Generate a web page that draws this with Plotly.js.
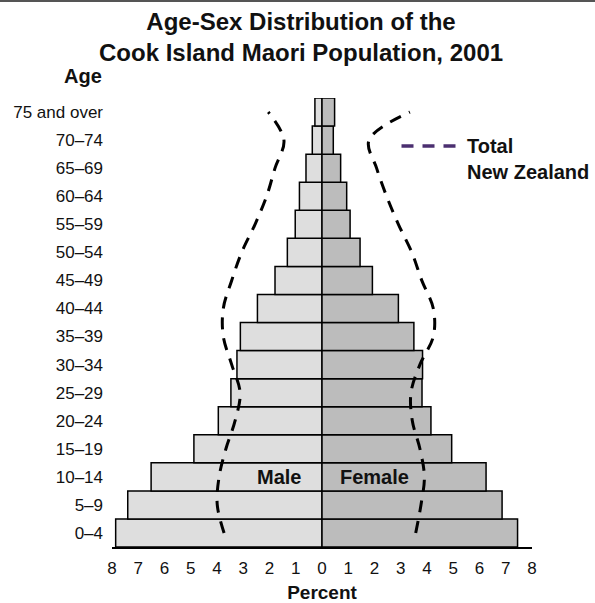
<!DOCTYPE html>
<html>
<head>
<meta charset="utf-8">
<script src="https://cdn.plot.ly/plotly-3.0.1.min.js"></script>
<style>
  html, body { margin: 0; padding: 0; background: #ffffff; }
  #chart { width: 595px; height: 603px; }
</style>
</head>
<body>
<div id="chart"></div>
<script>
// Age groups (bottom to top)
var ageGroups = ['0–4','5–9','10–14','15–19','20–24','25–29','30–34','35–39','40–44','45–49','50–54','55–59','60–64','65–69','70–74','75 and over'];

// Cook Island Maori population, 2001 (percent)
var maleCIM   = [7.86, 7.40, 6.51, 4.88, 3.95, 3.47, 3.24, 3.11, 2.46, 1.79, 1.32, 1.02, 0.86, 0.61, 0.37, 0.27];
var femaleCIM = [7.45, 6.86, 6.25, 4.94, 4.15, 3.81, 3.83, 3.50, 2.91, 1.92, 1.45, 1.07, 0.94, 0.71, 0.43, 0.48];

// Total New Zealand population, 2001 (percent)
var maleNZ   = [3.73, 3.99, 3.92, 3.66, 3.31, 3.12, 3.44, 3.76, 3.76, 3.44, 3.06, 2.55, 2.11, 1.79, 1.45, 2.05];
var femaleNZ = [3.57, 3.77, 3.90, 3.73, 3.44, 3.39, 3.73, 4.24, 4.24, 3.80, 3.42, 2.91, 2.46, 2.08, 1.79, 3.35];

// x-axis ticks
var xTickVals = [-8,-7,-6,-5,-4,-3,-2,-1,0,1,2,3,4,5,6,7,8];
var xTickText = ['8','7','6','5','4','3','2','1','0','1','2','3','4','5','6','7','8'];

var FONT = 'Liberation Sans, Arial, Helvetica, sans-serif';

var neg = function (arr) { return arr.map(function (v) { return -v; }); };

var traces = [
  {
    type: 'bar', orientation: 'h', name: 'Male',
    y: ageGroups, x: neg(maleCIM),
    marker: { color: '#dedede', line: { color: '#000000', width: 1.5 } },
    showlegend: false, hoverinfo: 'skip'
  },
  {
    type: 'bar', orientation: 'h', name: 'Female',
    y: ageGroups, x: femaleCIM,
    marker: { color: '#bcbcbc', line: { color: '#000000', width: 1.5 } },
    showlegend: false, hoverinfo: 'skip'
  },
  {
    type: 'scatter', mode: 'lines', name: 'Total New Zealand (male)',
    y: ageGroups, x: neg(maleNZ),
    line: { color: '#000000', width: 3, dash: '12px,9px', shape: 'spline', smoothing: 1 },
    showlegend: false, hoverinfo: 'skip'
  },
  {
    type: 'scatter', mode: 'lines', name: 'Total New Zealand (female)',
    y: ageGroups, x: femaleNZ,
    line: { color: '#000000', width: 3, dash: '12px,9px', shape: 'spline', smoothing: 1 },
    showlegend: false, hoverinfo: 'skip'
  }
];

// plot area geometry helpers (pixels -> paper)
var M = { l: 112, r: 63, t: 98, b: 56 };
var PW = 595 - M.l - M.r, PH = 603 - M.t - M.b;
function px(x) { return (x - M.l) / PW; }
function py(y) { return (603 - M.b - y) / PH; }

var layout = {
  width: 595, height: 603,
  margin: M,
  paper_bgcolor: '#ffffff', plot_bgcolor: '#ffffff',
  barmode: 'overlay', bargap: 0,
  font: { family: FONT, color: '#000000' },
  annotations: [
    { xref: 'paper', yref: 'paper', x: px(301), y: py(37), xanchor: 'center', yanchor: 'middle',
      text: '<b>Age-Sex Distribution of the<br>Cook Island Maori Population, 2001</b>', showarrow: false,
      font: { family: FONT, size: 24, color: '#111111' } },
    { xref: 'paper', yref: 'paper', x: px(82.5), y: py(76), xanchor: 'center', yanchor: 'middle',
      text: '<b>Age</b>', showarrow: false, font: { family: FONT, size: 20, color: '#111111' } },
    { xref: 'paper', yref: 'paper', x: px(465), y: py(159), xanchor: 'left', yanchor: 'middle',
      align: 'left', text: '<b>Total<br>New Zealand</b>', showarrow: false,
      font: { family: FONT, size: 20, color: '#111111' } },
    { xref: 'x', yref: 'y', x: -0.72, y: 2, xanchor: 'right', yanchor: 'middle',
      text: '<b>Male</b>', showarrow: false, font: { family: FONT, size: 20, color: '#111111' } },
    { xref: 'x', yref: 'y', x: 0.6, y: 2, xanchor: 'left', yanchor: 'middle',
      text: '<b>Female</b>', showarrow: false, font: { family: FONT, size: 20, color: '#111111' } }
  ],
  xaxis: {
    range: [-8, 8], fixedrange: true,
    tickmode: 'array', tickvals: xTickVals, ticktext: xTickText,
    tickfont: { family: FONT, size: 17, color: '#111111' },
    ticks: '', showgrid: false, zeroline: false,
    showline: true, linecolor: '#000000', linewidth: 2,
    ticklabelstandoff: 5,
    title: { text: '<b>Percent</b>', font: { family: FONT, size: 19, color: '#111111' }, standoff: 10 }
  },
  yaxis: {
    type: 'category', categoryorder: 'array', categoryarray: ageGroups,
    range: [-0.5, 15.5], fixedrange: true,
    tickfont: { family: FONT, size: 17, color: '#111111' },
    ticks: '', showgrid: false, zeroline: false, showline: false,
    ticklabelstandoff: 8
  },
  shapes: [
    { type: 'line', xref: 'paper', yref: 'paper',
      x0: px(0), x1: px(595), y0: py(1), y1: py(1),
      line: { color: '#555555', width: 2 } },
    { type: 'line', xref: 'paper', yref: 'paper',
      x0: px(401.5), x1: px(456), y0: py(146), y1: py(146),
      line: { color: '#4b2f70', width: 3.5, dash: '12px,9px' } }
  ]
};

Plotly.newPlot('chart', traces, layout, { displayModeBar: false, staticPlot: true });
</script>
</body>
</html>
